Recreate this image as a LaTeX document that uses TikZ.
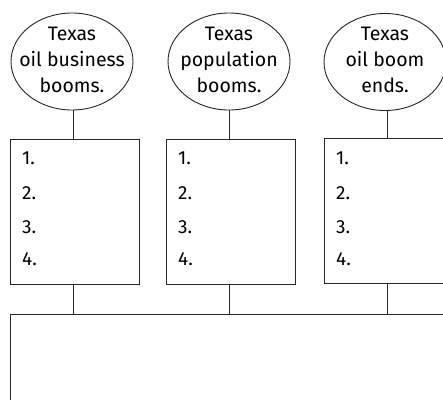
\documentclass[tikz,border=0pt]{standalone}
\usepackage{fontspec}
\setmainfont{Fira Sans}
\usetikzlibrary{shapes.geometric}
\tikzset{
  line/.style={draw=black!85, line width=0.9pt},
  bubble/.style={ellipse, line, minimum width=122pt, minimum height=97pt, inner sep=0pt},
  bubbletext/.style={align=center, inner sep=0pt, font=\fontsize{19.5}{26}\selectfont},
  listbox/.style={rectangle, line, minimum width=129pt, minimum height=145pt, inner sep=0pt},
  num/.style={anchor=west, inner sep=0pt, font=\fontsize{19}{20}\selectfont},
  bigbox/.style={rectangle, line, minimum width=450pt, minimum height=110pt, inner sep=0pt}
}
\begin{document}
\begin{tikzpicture}[x=1pt, y=-1pt]
\useasboundingbox (0,0) rectangle (443,399);
\clip (0,0) rectangle (443,399);
% bubbles
\node[bubble] (e1) at (72,61.5) {};
\node[bubble] (e2) at (229,61.5) {};
\node[bubble] (e3) at (385,62) {};
\node[bubbletext] (t1) at ([yshift=2pt]e1.center) {Texas\\oil business\\booms.};
\node[bubbletext] (t2) at ([yshift=2pt]e2.center) {Texas\\population\\booms.};
\node[bubbletext] (t3) at ([yshift=2pt]e3.center) {Texas\\oil boom\\ends.};
% boxes
\node[listbox] (b1) at (74.5,211.5) {};
\node[listbox] (b2) at (230.5,211.5) {};
\node[listbox] (b3) at (388.5,211) {};
% numbers
\foreach \b/\x in {1/22, 2/178, 3/336}{
  \node[num] (n\b a) at (\x,158) {1.};
  \node[num] (n\b b) at (\x,193) {2.};
  \node[num] (n\b c) at (\x,227) {3.};
  \node[num] (n\b d) at (\x,259) {4.};
}
% big box
\node[bigbox] (big) at (235,369) {};
% connectors
\coordinate (s1) at (73,0);
\coordinate (s2) at (229,0);
\coordinate (s3) at (387,0);
\draw[line] (s1 |- e1.south) -- (s1 |- b1.north);
\draw[line] (s2 |- e2.south) -- (s2 |- b2.north);
\draw[line] (s3 |- e3.south) -- (s3 |- b3.north);
\draw[line] (s1 |- b1.south) -- (s1 |- big.north);
\draw[line] (s2 |- b2.south) -- (s2 |- big.north);
\draw[line] (s3 |- b3.south) -- (s3 |- big.north);
\end{tikzpicture}
\end{document}
